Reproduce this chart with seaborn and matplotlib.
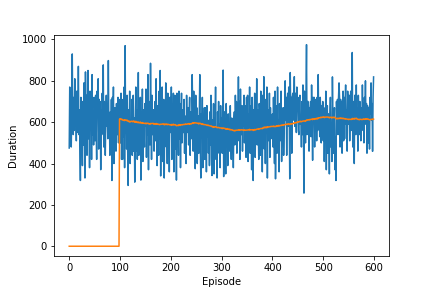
import numpy as np
import pandas as pd
import matplotlib
matplotlib.use("Agg")
import matplotlib.pyplot as plt
import seaborn as sns

# episode durations (25 episodes per row)
durations = [
    475, 770, 640, 710, 480, 640, 930, 600, 540, 720, 560, 810, 580, 670, 510, 750, 590, 550, 870, 540, 660, 480, 318, 720, 620,
    580, 390, 700, 490, 790, 540, 330, 843, 610, 730, 440, 660, 850, 520, 620, 380, 750, 580, 680, 420, 830, 540, 650, 490, 720,
    670, 510, 730, 590, 420, 750, 650, 810, 470, 710, 560, 700, 370, 660, 540, 740, 590, 877, 480, 700, 650, 440, 630, 730, 580,
    630, 520, 898, 540, 630, 440, 650, 490, 710, 318, 720, 590, 770, 400, 670, 570, 670, 460, 690, 610, 540, 720, 500, 710, 630,
    670, 500, 740, 420, 620, 420, 710, 530, 770, 380, 970, 550, 630, 470, 730, 470, 294, 660, 550, 750, 400, 610, 500, 710, 440,
    530, 730, 460, 620, 310, 580, 770, 460, 660, 420, 560, 840, 440, 640, 530, 720, 320, 610, 520, 760, 410, 660, 560, 480, 690,
    580, 760, 430, 660, 540, 830, 370, 700, 600, 490, 885, 610, 420, 730, 540, 650, 660, 460, 620, 700, 510, 810, 580, 390, 680,
    630, 440, 750, 520, 850, 340, 670, 560, 770, 410, 600, 710, 330, 660, 550, 790, 480, 630, 400, 740, 580, 670, 360, 720, 550,
    610, 770, 420, 670, 510, 740, 360, 620, 730, 470, 660, 320, 740, 560, 630, 440, 750, 520, 690, 380, 620, 740, 500, 590, 660,
    550, 710, 450, 630, 610, 400, 730, 550, 670, 670, 490, 630, 720, 440, 650, 600, 520, 830, 650, 460, 750, 570, 680, 375, 730,
    510, 670, 400, 600, 630, 450, 630, 830, 480, 330, 640, 560, 720, 380, 610, 510, 670, 420, 590, 670, 360, 680, 530, 610, 450,
    570, 390, 650, 490, 730, 430, 342, 610, 510, 690, 350, 620, 540, 770, 420, 570, 330, 650, 490, 700, 450, 590, 380, 680, 540,
    620, 450, 570, 852, 337, 650, 460, 540, 350, 690, 500, 600, 390, 640, 470, 570, 460, 680, 510, 420, 620, 490, 570, 380, 610,
    650, 490, 730, 570, 700, 450, 680, 600, 819, 510, 700, 420, 760, 610, 540, 680, 460, 660, 580, 730, 500, 680, 620, 430, 720,
    550, 730, 410, 640, 530, 770, 450, 680, 600, 370, 720, 510, 318, 660, 610, 740, 430, 640, 550, 810, 490, 660, 580, 420, 690,
    610, 440, 750, 530, 670, 360, 730, 570, 820, 470, 630, 400, 710, 550, 770, 330, 660, 590, 510, 740, 430, 670, 550, 630, 520,
    640, 480, 720, 560, 400, 750, 326, 600, 680, 450, 770, 530, 610, 360, 690, 510, 590, 750, 410, 630, 520, 670, 440, 560, 610,
    800, 610, 720, 440, 700, 740, 580, 770, 660, 326, 840, 630, 720, 450, 720, 740, 610, 690, 820, 580, 740, 660, 550, 770, 700,
    720, 560, 540, 710, 730, 590, 620, 480, 700, 540, 780, 560, 257, 750, 660, 500, 730, 975, 540, 700, 700, 670, 460, 670, 590,
    700, 530, 780, 610, 416, 720, 660, 720, 480, 710, 610, 700, 510, 720, 560, 830, 590, 700, 530, 720, 660, 500, 680, 600, 700,
    510, 670, 410, 610, 560, 750, 370, 590, 680, 450, 640, 530, 350, 610, 720, 480, 560, 410, 819, 610, 450, 560, 670, 370, 530,
    318, 700, 590, 710, 540, 720, 790, 720, 480, 710, 620, 700, 450, 670, 750, 510, 720, 520, 700, 780, 590, 660, 460, 750, 640,
    590, 730, 510, 670, 750, 560, 650, 937, 480, 700, 590, 400, 730, 620, 540, 780, 560, 670, 460, 730, 620, 540, 700, 650, 510,
    670, 560, 780, 610, 690, 500, 720, 640, 800, 590, 690, 450, 680, 650, 500, 670, 470, 720, 640, 790, 610, 690, 459, 720, 819,
]

df = pd.DataFrame({"episode": np.arange(len(durations)), "duration": durations})
# 100-episode moving average, zero until 100 episodes are available
df["mean100"] = df["duration"].rolling(100).mean().fillna(0)

fig = plt.figure(figsize=(6, 4), dpi=72)
ax = plt.gca()
sns.lineplot(data=df, x="episode", y="duration", color="#1f77b4", linewidth=1.5, estimator=None, ax=ax)
sns.lineplot(data=df, x="episode", y="mean100", color="#ff7f0e", linewidth=1.5, estimator=None, ax=ax)
ax.set_xlabel("Episode")
ax.set_ylabel("Duration")
plt.savefig("out.png", dpi=72)
plt.close()
